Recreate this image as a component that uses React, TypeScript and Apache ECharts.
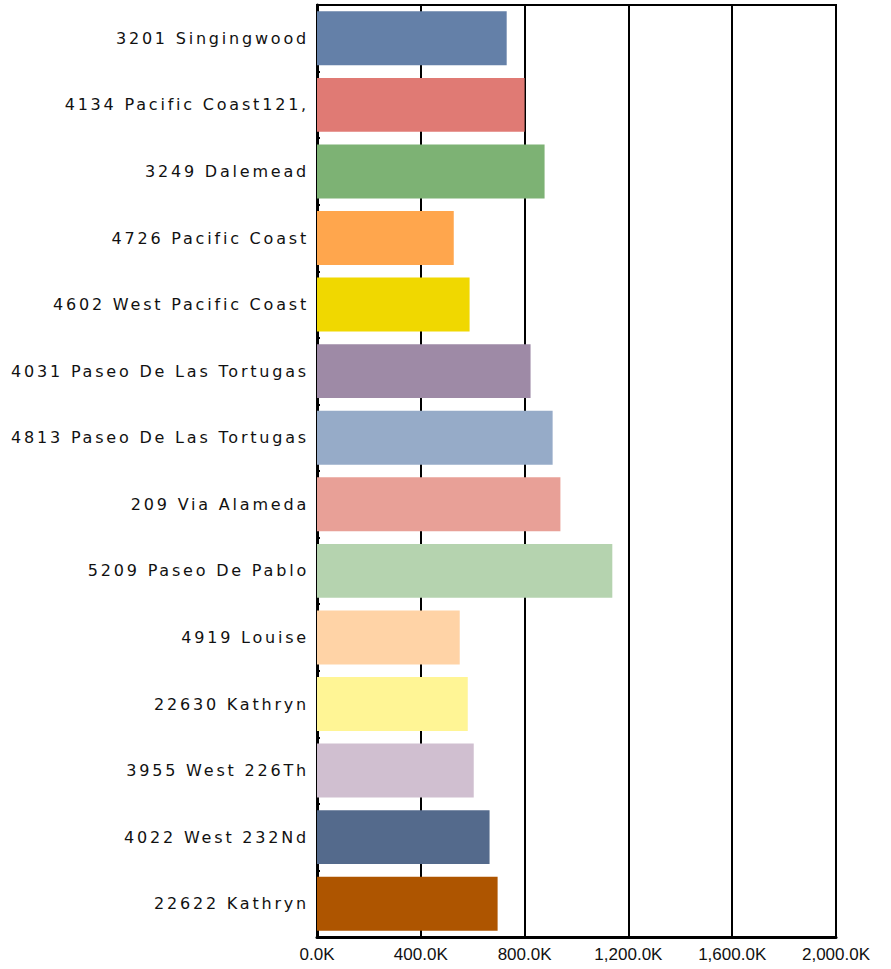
import React, { useEffect, useRef } from "react";
import * as echarts from "echarts";

const categories: string[] = [
  "3201 Singingwood",
  "4134 Pacific Coast121,",
  "3249 Dalemead",
  "4726 Pacific Coast",
  "4602 West Pacific Coast",
  "4031 Paseo De Las Tortugas",
  "4813 Paseo De Las Tortugas",
  "209 Via Alameda",
  "5209 Paseo De Pablo",
  "4919 Louise",
  "22630 Kathryn",
  "3955 West 226Th",
  "4022 West 232Nd",
  "22622 Kathryn",
];

const values: number[] = [
  731000, 800000, 877000, 527000, 588000, 823000, 908000, 938000, 1138000,
  550000, 581000, 604000, 665000, 696000,
];

const barColors: string[] = [
  "#6480A8",
  "#E07A74",
  "#7DB274",
  "#FFA64D",
  "#F0D800",
  "#9E8AA6",
  "#96ABC8",
  "#E8A097",
  "#B5D3AF",
  "#FFD3A6",
  "#FFF595",
  "#D0BFD0",
  "#546A8C",
  "#AE5500",
];

const xMin = 0;
const xMax = 2000000;
const xInterval = 400000;

function fmtK(v: number): string {
  return (
    (v / 1000).toLocaleString("en-US", {
      minimumFractionDigits: 1,
      maximumFractionDigits: 1,
    }) + "K"
  );
}

export default function App() {
  const ref = useRef<HTMLDivElement>(null);

  useEffect(() => {
    if (!ref.current) return;
    const chart = echarts.init(ref.current, null, { renderer: "svg" });
    chart.setOption({
      animation: false,
      backgroundColor: "#ffffff",
      grid: {
        left: 317,
        right: 55,
        top: 5,
        bottom: 32,
        show: true,
        borderColor: "#000000",
        borderWidth: 2,
        backgroundColor: "transparent",
      },
      xAxis: {
        type: "value",
        min: xMin,
        max: xMax,
        interval: xInterval,
        axisLine: { show: true, lineStyle: { color: "#000", width: 3 } },
        axisTick: { show: false },
        splitLine: { show: true, lineStyle: { color: "#000", width: 2 } },
        axisLabel: {
          formatter: (v: number) => fmtK(v),
          color: "#111",
          fontFamily: "'Liberation Sans', Arial, sans-serif",
          fontSize: 17,
          margin: 9,
        },
      },
      yAxis: {
        type: "category",
        data: categories,
        inverse: true,
        axisLine: { show: true, lineStyle: { color: "#000", width: 3 } },
        axisTick: {
          show: true,
          inside: true,
          length: 3,
          lineStyle: { color: "#000", width: 2 },
        },
        splitLine: { show: false },
        axisLabel: {
          color: "#111",
          fontFamily: "'DejaVu Sans', Verdana, sans-serif",
          fontSize: 16,
          margin: 8,
        },
      },
      series: [
        {
          type: "bar",
          data: values.map((v, i) => ({
            value: v,
            itemStyle: { color: barColors[i] },
          })),
          barCategoryGap: "19%",
        },
      ],
    });
    return () => chart.dispose();
  }, []);

  return (
    <>
      <style>{`.chart-root text[text-anchor="end"]{letter-spacing:2.8px;}`}</style>
      <div
        ref={ref}
        className="chart-root"
        style={{
          position: "fixed",
          left: 0,
          top: 0,
          width: 891,
          height: 969,
          background: "#fff",
        }}
      />
    </>
  );
}
